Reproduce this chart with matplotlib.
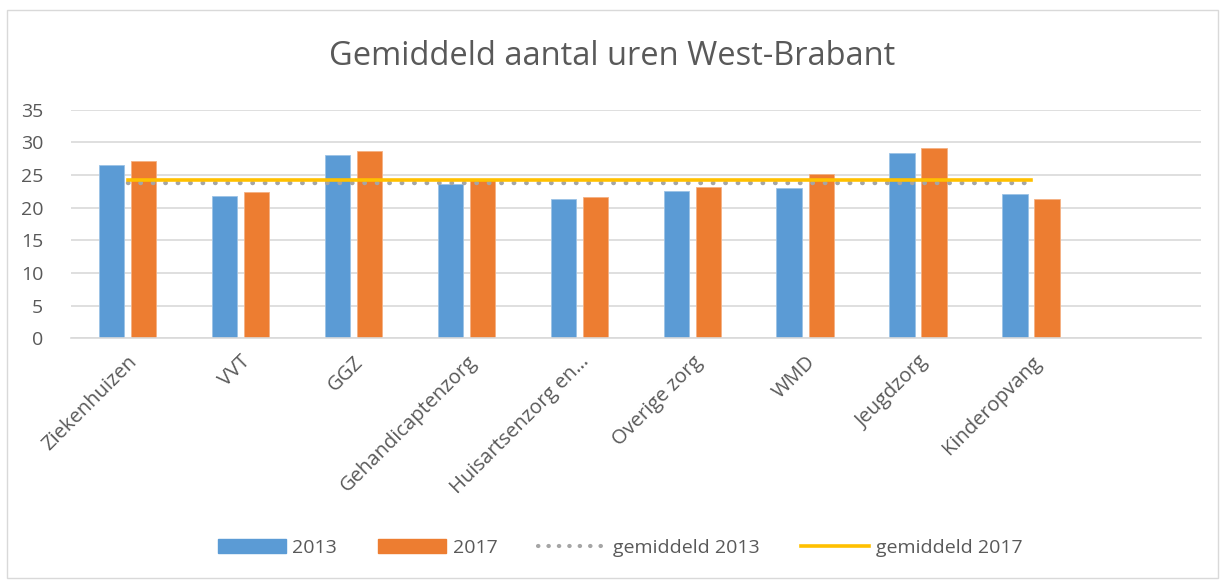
import numpy as np
import matplotlib
matplotlib.use("Agg")
import matplotlib.pyplot as plt
from matplotlib.lines import Line2D
from matplotlib.patches import Patch, Rectangle

categories = ["Ziekenhuizen", "VVT", "GGZ", "Gehandicaptenzorg", "Huisartsenzorg en…",
              "Overige zorg", "WMD", "Jeugdzorg", "Kinderopvang"]
uren_2013 = [26.6, 21.8, 28.1, 23.7, 21.3, 22.6, 23.0, 28.4, 22.1]
uren_2017 = [27.2, 22.4, 28.7, 24.2, 21.6, 23.2, 25.2, 29.1, 21.4]
gem_2013 = 23.8
gem_2017 = 24.3

plt.rcParams['font.family'] = ['Open Sans', 'DejaVu Sans']
txt = "#595959"

fig = plt.figure(figsize=(12.25, 5.81), dpi=100)
ax = fig.add_axes([0.058, 0.418, 0.922, 0.393])

x = np.arange(len(categories))
w = 0.225
ax.bar(x - 0.142, uren_2013, w, color="#5b9bd5", edgecolor="#9cc3e6", linewidth=0.6, zorder=2)
ax.bar(x + 0.142, uren_2017, w, color="#ed7d31", edgecolor="#f4b183", linewidth=0.6, zorder=2)
ax.plot(x, [gem_2013] * len(x), color="#a5a5a5", linewidth=3.2, linestyle=(0, (0.1, 2.7)),
        dash_capstyle="round", zorder=3)
ax.plot(x, [gem_2017] * len(x), color="#ffc000", linewidth=2.6, zorder=4)

ax.set_xlim(-0.5, 9.5)
ax.set_ylim(0, 35)
ax.set_yticks(range(0, 36, 5))
ax.yaxis.grid(True, color="#d9d9d9", linewidth=1.2, zorder=0)
ax.set_axisbelow(True)
for s in ["top", "right", "left"]:
    ax.spines[s].set_visible(False)
ax.spines["bottom"].set_color("#d9d9d9")
ax.spines["bottom"].set_linewidth(1.2)
ax.tick_params(length=0, labelsize=14, colors=txt)
ax.tick_params(axis="y", pad=20)
ax.set_xticks(x)
ax.set_xticklabels(categories, rotation=45, ha="right", rotation_mode="anchor", fontsize=14.5)
ax.tick_params(axis="x", pad=10)

fig.text(0.5, 0.902, "Gemiddeld aantal uren West-Brabant", ha="center", va="center",
         fontsize=23.5, color=txt)

handles = [Patch(color="#5b9bd5"), Patch(color="#ed7d31"),
           Line2D([], [], color="#a5a5a5", linewidth=3.0, linestyle=(0, (0.1, 2.4)),
                  dash_capstyle="round"),
           Line2D([], [], color="#ffc000", linewidth=2.6)]
labels = ["2013", "2017", "gemiddeld 2013", "gemiddeld 2017"]
fig.legend(handles, labels, loc="center", bbox_to_anchor=(0.506, 0.057), ncol=4,
           frameon=False, fontsize=14, labelcolor=txt, handlelength=3.5,
           handleheight=0.7, handletextpad=0.35, columnspacing=2.1)

fig.patches.append(Rectangle((0.006, 0.005), 0.988, 0.978, transform=fig.transFigure,
                             fill=False, edgecolor="#d9d9d9", linewidth=1))

fig.savefig("out.png", dpi=100)
